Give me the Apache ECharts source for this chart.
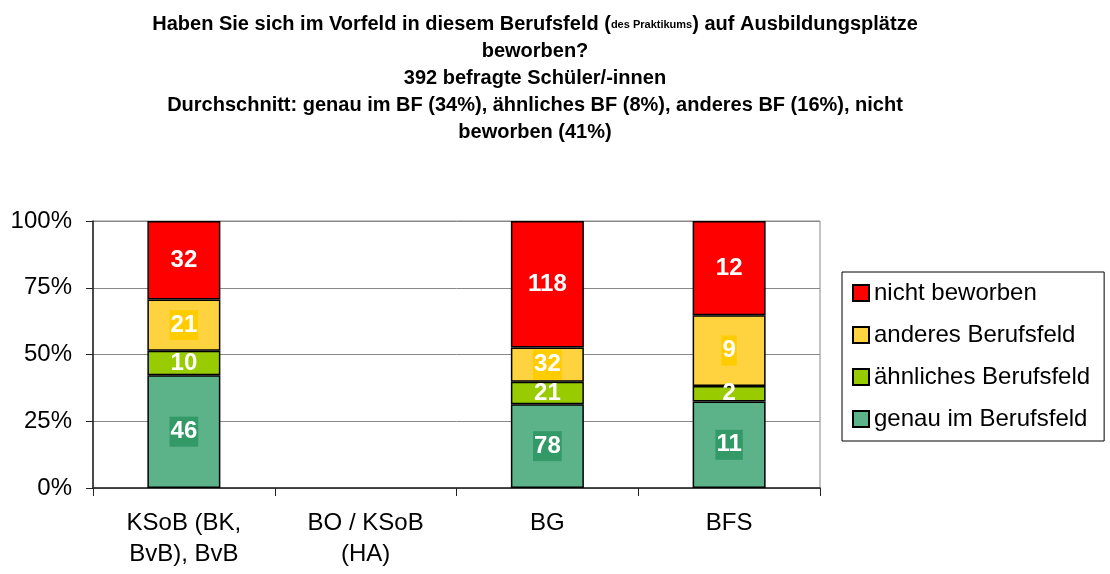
<!DOCTYPE html>
<html lang="de">

<head>
    <meta charset="UTF-8">
    <title>Bewerbungen im Berufsfeld</title>
    <style>
        * {
            margin: 0;
            padding: 0;
        }

        #chart {
            width: 1110px;
            height: 574px;
            background: #fff;
        }
    </style>
</head>

<body>
    <div id="chart"></div>

    <script src="https://cdn.jsdelivr.net/npm/echarts@6/dist/echarts.min.js"></script>
    <script>
        var categories = ['KSoB (BK,\nBvB), BvB', 'BO / KSoB\n(HA)', 'BG', 'BFS'];
        // Anzahl Schüler je Antwort (BO / KSoB ohne Daten)
        var genau = [46, null, 78, 11];
        var aehnlich = [10, null, 21, 2];
        var anderes = [21, null, 32, 9];
        var nicht = [32, null, 118, 12];
        var yTicks = [0, 25, 50, 75, 100];

        var chart = echarts.init(document.getElementById('chart'));

        var totals = categories.map(function (c, i) {
            return (genau[i] || 0) + (aehnlich[i] || 0) + (anderes[i] || 0) + (nicht[i] || 0);
        });

        function toPercent(arr) {
            return arr.map(function (v, i) {
                if (v == null || !totals[i]) return null;
                return { value: v / totals[i] * 100, count: v };
            });
        }

        function makeSeries(name, arr, color, labelBg) {
            return {
                name: name,
                type: 'bar',
                stack: 'all',
                barWidth: 73,
                data: toPercent(arr),
                itemStyle: {
                    color: color,
                    borderColor: '#000',
                    borderWidth: 1.5
                },
                label: {
                    show: true,
                    position: 'inside',
                    color: '#fff',
                    fontFamily: 'Liberation Sans',
                    fontWeight: 'bold',
                    fontSize: 24,
                    backgroundColor: labelBg || 'transparent',
                    padding: labelBg ? [4, 1, 2, 1] : 0,
                    formatter: function (p) {
                        return p.data.count;
                    }
                }
            };
        }

        var option = {
            animation: false,
            backgroundColor: '#fff',
            textStyle: { fontFamily: 'Liberation Sans' },
            title: {
                left: 530,
                textAlign: 'center',
                top: 6,
                text: 'Haben Sie sich im Vorfeld in diesem Berufsfeld ({s|des Praktikums}) auf Ausbildungsplätze\n' +
                    'beworben?\n392 befragte Schüler/-innen\n' +
                    'Durchschnitt: genau im BF (34%), ähnliches BF (8%), anderes BF (16%), nicht\nbeworben (41%)',
                textStyle: {
                    fontFamily: 'Liberation Sans',
                    fontWeight: 'bold',
                    fontSize: 20,
                    lineHeight: 27,
                    color: '#000',
                    rich: {
                        s: {
                            fontFamily: 'Liberation Sans',
                            fontWeight: 'bold',
                            fontSize: 11,
                            lineHeight: 27,
                            color: '#000'
                        }
                    }
                }
            },
            legend: {
                orient: 'vertical',
                left: 842,
                top: 272,
                data: ['nicht beworben', 'anderes Berufsfeld', 'ähnliches Berufsfeld', 'genau im Berufsfeld'],
                icon: 'rect',
                itemWidth: 16,
                itemHeight: 16,
                itemGap: 18,
                padding: [9, 14, 10, 10],
                borderColor: '#000',
                borderWidth: 1,
                textStyle: {
                    fontFamily: 'Liberation Sans',
                    fontSize: 24,
                    lineHeight: 24,
                    color: '#000'
                }
            },
            grid: {
                left: 93,
                right: 290,
                top: 221,
                bottom: 86,
                show: true,
                borderColor: '#888',
                borderWidth: 1
            },
            xAxis: {
                type: 'category',
                data: categories,
                axisLine: { lineStyle: { color: '#222', width: 1.5 } },
                axisTick: { show: true, length: 8, lineStyle: { color: '#222' } },
                axisLabel: {
                    color: '#000',
                    fontSize: 24,
                    lineHeight: 31,
                    margin: 20,
                    interval: 0
                }
            },
            yAxis: {
                type: 'value',
                min: yTicks[0],
                max: yTicks[yTicks.length - 1],
                interval: 25,
                axisLine: { show: true, lineStyle: { color: '#222', width: 1.5 } },
                axisTick: { show: true, length: 7, lineStyle: { color: '#222' } },
                axisLabel: {
                    color: '#000',
                    fontSize: 24,
                    margin: 21,
                    formatter: '{value}%'
                },
                splitLine: { lineStyle: { color: '#888', width: 1 } }
            },
            series: [
                makeSeries('genau im Berufsfeld', genau, '#5CB38A', '#339966'),
                makeSeries('ähnliches Berufsfeld', aehnlich, '#99CC00', null),
                makeSeries('anderes Berufsfeld', anderes, '#FFD33F', '#FFCC00'),
                makeSeries('nicht beworben', nicht, '#FF0000', null)
            ]
        };

        chart.setOption(option);
    </script>
</body>

</html>
